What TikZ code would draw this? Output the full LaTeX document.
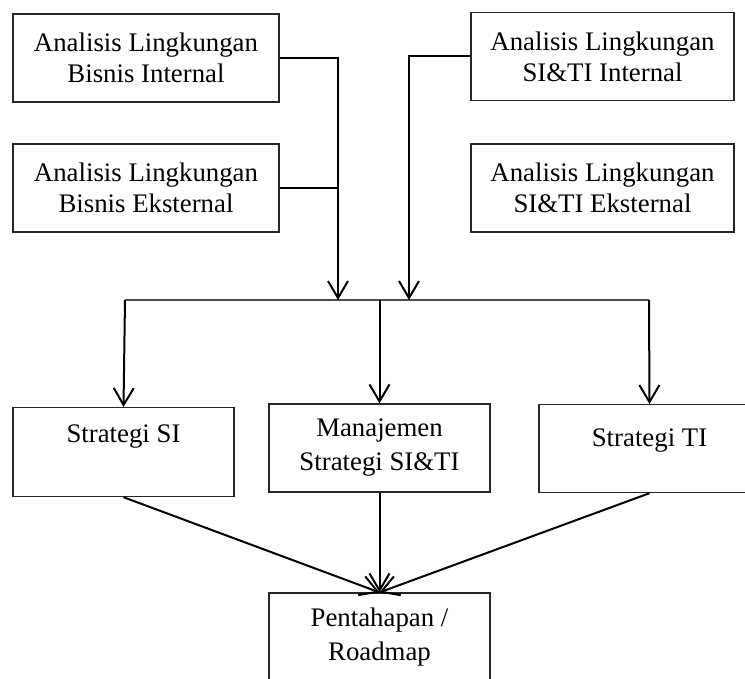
\documentclass[tikz,border=0pt]{standalone}
\usepackage{fontspec}
\setmainfont{Liberation Serif}
\usetikzlibrary{arrows.meta}
\tikzset{>={Straight Barb[length=8.5pt,width=10pt]}}
\tikzstyle{every box}=[draw=black!85,line width=0.6pt,inner sep=0pt,align=center,font=\fontsize{13.4}{15.5}\selectfont]
\tikzstyle{topbox}=[every box,minimum width=133pt,minimum height=44pt]
\tikzstyle{stratbox}=[every box,minimum width=110.5pt,minimum height=44pt]
\tikzstyle{flow}=[->,line width=1pt]
\tikzstyle{feed}=[line width=0.6pt]

\begin{document}
\begin{tikzpicture}[x=0.5pt,y=-0.5pt]
		\useasboundingbox (0,0) rectangle (745,679);
		% analisis lingkungan
		\node[topbox] (bisInt) at (146,58) {Analisis Lingkungan\\Bisnis Internal};
		\node[topbox] (bisEks) at (146,188) {Analisis Lingkungan\\Bisnis Eksternal};
		\node[topbox,minimum width=131.5pt] (sitInt) at (602.5,56.5) {Analisis Lingkungan\\SI\&TI Internal};
		\node[topbox,minimum width=131.5pt] (sitEks) at (602.5,188) {Analisis Lingkungan\\SI\&TI Eksternal};
		
		% strategi
		\node[stratbox,anchor=north,text height=17.5pt,text depth=27pt] (strSI) at (123.5,407) {Strategi SI};
		\node[stratbox] (manStr) at (379.5,448) {Manajemen\\[1.5pt]Strategi SI\&TI};
		\node[stratbox,anchor=north,text height=21pt,text depth=23pt] (strTI) at (649.5,404) {Strategi TI};
		\node[stratbox] (road) at (379.5,637) {Pentahapan /\\[1.5pt]Roadmap};
		
		% bus
		\coordinate (busL) at (125,300);
		\coordinate (busR) at (649,300);
		\coordinate (busA) at (338,300);
		\coordinate (busB) at (409,300);
		\coordinate (busM) at (379.5,300);
		\draw[feed,black!70] (busL) -- (busR);
		
		\draw[flow] (bisInt.east) -| (busA);
		\draw[feed] (bisEks.east) -- (bisEks.east -| busA);
		\draw[flow] (sitInt.west) -| (busB);
		
		\draw[flow] (busL) -- (strSI.north);
		\draw[flow] (busM) -- (manStr.north);
		\draw[flow] (busR) -- (strTI.north);
		
		\draw[flow] (strSI.south) -- (road.north);
		\draw[flow] (manStr.south) -- (road.north);
		\draw[flow] (strTI.south) -- (road.north);
	\end{tikzpicture}
\end{document}
